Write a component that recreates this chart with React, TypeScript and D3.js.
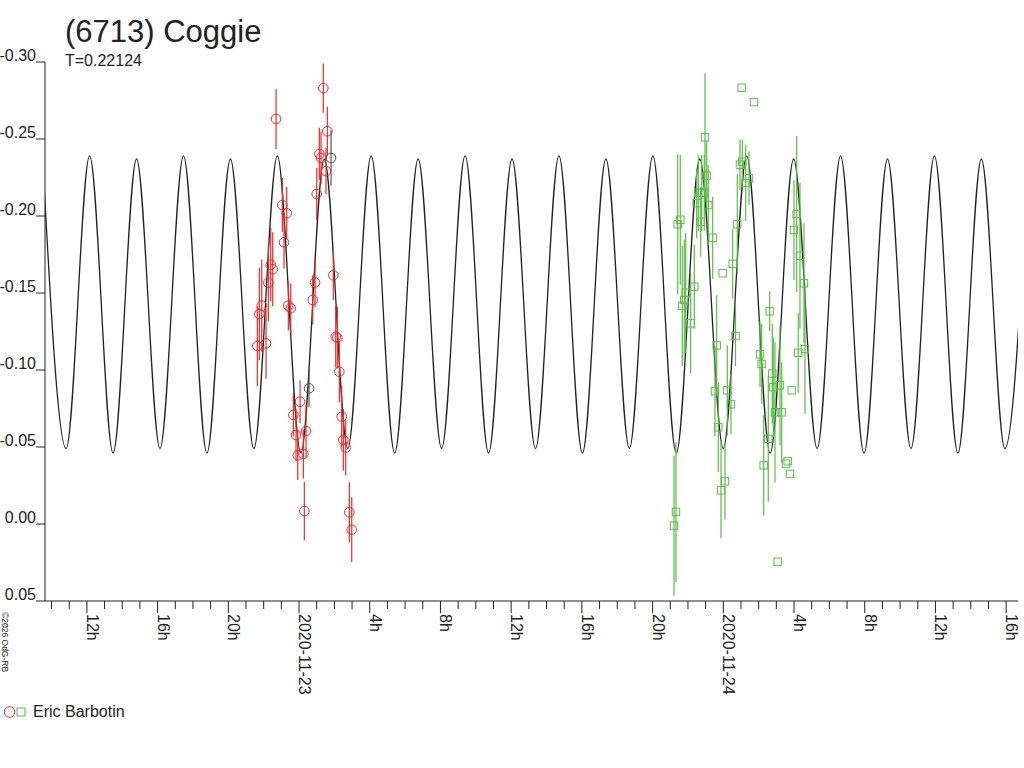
import React, { useEffect, useRef } from 'react';
import * as d3 from 'd3';

// times are hours from 2020-11-23 00:00 UT, magnitudes are relative
const BASE = Date.UTC(2020, 10, 23);
const X_START = -14.37;
const X_END = 40.67;

const yTicks = [-0.3, -0.25, -0.2, -0.15, -0.1, -0.05, 0.0, 0.05];

// Fourier fit, read as its extrema (P = 0.22124 d)
const curveHours = [
  -14.502, -13.175, -11.847, -10.52, -9.192, -7.865, -6.537, -5.21, -3.882, -2.555,
  -1.227, 0.101, 1.428, 2.756, 4.083, 5.411, 6.738, 8.066, 9.393, 10.721,
  12.048, 13.376, 14.703, 16.031, 17.358, 18.686, 20.013, 21.341, 22.668, 23.996,
  25.323, 26.651, 27.978, 29.306, 30.633, 31.961, 33.288, 34.616, 35.943, 37.271,
  38.598, 39.926, 41.253,
];
const curveMags = [
  -0.237, -0.049, -0.239, -0.046, -0.237, -0.049, -0.239, -0.046, -0.237, -0.049,
  -0.239, -0.046, -0.237, -0.049, -0.239, -0.046, -0.237, -0.049, -0.239, -0.046,
  -0.237, -0.049, -0.239, -0.046, -0.237, -0.049, -0.239, -0.046, -0.237, -0.049,
  -0.239, -0.046, -0.237, -0.049, -0.239, -0.046, -0.237, -0.049, -0.239, -0.046,
  -0.237, -0.049, -0.239,
];

// session 1 (red circles)
const redHours = [
  -1.301, 1.374, 1.601, 1.148, 1.244, 1.527, 1.001, -0.945, -0.696, -0.848,
  -1.601, -1.488, -1.736, -2.11, -2.245, 0.905, 0.775, 1.94, -0.605, -0.469,
  -2.359, -1.867, 2.076, 2.166, 2.279, 0.057, -0.322, -0.17, 0.396, -0.074,
  0.243, 2.415, 2.506, 2.641, 0.3, 2.845, 2.981,
];
const redMags = [
  -0.263, -0.283, -0.255, -0.2403, -0.2377, -0.2292, -0.2143, -0.2071, -0.2018, -0.1829,
  -0.1684, -0.1654, -0.1567, -0.1418, -0.1364, -0.1569, -0.1455, -0.1615, -0.1418, -0.1401,
  -0.1156, -0.1173, -0.1216, -0.121, -0.0989, -0.0794, -0.0708, -0.0578, -0.0604, -0.0446,
  -0.0455, -0.0697, -0.0546, -0.0496, -0.0084, -0.0076, 0.0037,
];
const redErrs = [
  0.0195, 0.016, 0.016, 0.017, 0.017, 0.015, 0.017, 0.0175, 0.017, 0.017,
  0.024, 0.024, 0.025, 0.03, 0.03, 0.016, 0.016, 0.016, 0.016, 0.016,
  0.026, 0.023, 0.02, 0.02, 0.02, 0.014, 0.014, 0.017, 0.017, 0.016,
  0.016, 0.02, 0.02, 0.018, 0.019, 0.0195, 0.021,
];

// a couple of points drawn in dark grey
const greyHours = [1.81, 0.566];
const greyMags = [-0.2377, -0.0881];
const greyErrs = [0.018, 0.012];

// session 2 (green squares)
const greenHours = [
  25.04, 25.735, 22.964, 24.943, 25.074, 25.266, 25.452, 23.06, 22.585, 22.777,
  22.924, 22.494, 23.151, 21.567, 21.42, 22.721, 23.399, 24.791, 23.965, 24.53,
  22.359, 21.872, 21.793, 21.68, 22.155, 24.689, 23.626, 23.529, 24.225, 24.434,
  23.716, 24.095, 23.869, 21.324, 21.21, 28.151, 27.998, 28.337, 28.563, 26.623,
  26.075, 26.171, 28.241, 28.62, 26.77, 26.827, 27.206, 27.866, 26.923, 27.302,
  26.544, 26.284, 27.642, 27.545, 27.771, 27.076,
];
const greenMags = [
  -0.2833, -0.274, -0.2511, -0.2333, -0.2353, -0.2214, -0.2245, -0.2262, -0.2151, -0.2151,
  -0.2151, -0.2083, -0.2071, -0.1976, -0.1946, -0.1963, -0.1859, -0.1946, -0.1628, -0.1689,
  -0.1541, -0.1502, -0.1455, -0.1416, -0.1303, -0.1221, -0.116, -0.0862, -0.0868, -0.0777,
  -0.0628, -0.0277, -0.0219, -0.0078, 0.0011, -0.2013, -0.1909, -0.1742, -0.1563, -0.1381,
  -0.1102, -0.1039, -0.1112, -0.1136, -0.0977, -0.0888, -0.0901, -0.0868, -0.0725, -0.0725,
  -0.0553, -0.0381, -0.0407, -0.0392, -0.0325, 0.0245,
];
const greenErrs = [
  0, 0, 0.0416, 0.0162, 0.0143, 0.0247, 0.0175, 0.0227, 0.0247, 0.0247,
  0.0247, 0.0227, 0.026, 0.0422, 0.0455, 0.0227, 0.0266, 0.0325, 0, 0.0227,
  0.0273, 0.039, 0.039, 0.039, 0.0325, 0.0195, 0.0325, 0.0292, 0.0292, 0.0195,
  0.0292, 0.0247, 0.0312, 0.0455, 0.0455, 0.0506, 0.0325, 0.0474, 0.039, 0.013,
  0.0214, 0.026, 0.026, 0.0422, 0.0325, 0.0325, 0.039, 0, 0.0455, 0.0325,
  0.0409, 0.0325, 0, 0, 0, 0,
];

const TITLE = '(6713) Coggie';
const SUBTITLE = 'T=0.22124';
const OBSERVER = 'Eric Barbotin';

const FONT = '"Liberation Sans", Arial, sans-serif';
const INK = '#222';
const RED = '#ec2a2a';
const GREEN = '#5dbb47';
const GREY = '#555';

const toDate = (h: number) => new Date(BASE + h * 3600 * 1000);

export default function App() {
  const svgRef = useRef<SVGSVGElement>(null);

  useEffect(() => {
    if (!svgRef.current) return;
    const svg = d3.select(svgRef.current);
    svg.selectAll('*').remove();

    const x = d3.scaleUtc().domain([toDate(X_START), toDate(X_END)]).range([45, 1018]);
    const y = d3.scaleLinear().domain([-0.3, 0.05]).range([62, 601]);

    svg.append('rect').attr('width', 1024).attr('height', 768).attr('fill', '#fff');

    // Title
    svg.append('text')
      .attr('x', 65).attr('y', 42)
      .style('font-family', FONT).style('font-size', '31px').attr('fill', INK)
      .text(TITLE);
    svg.append('text')
      .attr('x', 65).attr('y', 66)
      .style('font-family', FONT).style('font-size', '16px').attr('fill', INK)
      .text(SUBTITLE);

    // Y axis
    const [x0, x1] = x.range();
    const [yTop, yBot] = y.range();
    svg.append('line')
      .attr('x1', x0).attr('x2', x0).attr('y1', yTop).attr('y2', yBot)
      .attr('stroke', INK).attr('stroke-width', 1);
    yTicks.forEach(v => {
      svg.append('line')
        .attr('x1', x0 - 9).attr('x2', x0).attr('y1', y(v)).attr('y2', y(v))
        .attr('stroke', INK);
      svg.append('text')
        .attr('x', x0 - 9).attr('y', y(v) - 1)
        .attr('text-anchor', 'end')
        .style('font-family', FONT).style('font-size', '16px').attr('fill', INK)
        .text(v.toFixed(2));
    });

    // X axis
    svg.append('line')
      .attr('x1', x0).attr('x2', x1).attr('y1', yBot).attr('y2', yBot)
      .attr('stroke', INK);
    x.ticks(d3.utcHour.every(1)!).forEach(d => {
      const hr = d.getUTCHours();
      const major = hr % 4 === 0;
      svg.append('line')
        .attr('x1', x(d)).attr('x2', x(d))
        .attr('y1', yBot).attr('y2', yBot + (major ? 12 : 8))
        .attr('stroke', INK);
      if (major) {
        const label = hr === 0 ? d3.utcFormat('%Y-%m-%d')(d) : `${hr}h`;
        svg.append('text')
          .attr('transform', `translate(${x(d)},${yBot + 13}) rotate(90)`)
          .style('font-family', FONT).style('font-size', '16px').attr('fill', INK)
          .text(label);
      }
    });

    // Copyright
    svg.append('text')
      .attr('transform', 'translate(2,612) rotate(90)')
      .style('font-family', FONT).style('font-size', '8.5px').attr('fill', INK)
      .text('\u00a92026 OdG-RB');

    // Fitted curve
    svg.append('clipPath').attr('id', 'plot-clip')
      .append('rect').attr('x', x0).attr('y', 0).attr('width', x1 - x0).attr('height', 768);

    const line = d3.line<number>()
      .x((_, i) => x(toDate(curveHours[i])))
      .y(d => y(d))
      .curve(d3.curveMonotoneX);

    svg.append('path')
      .datum(curveMags)
      .attr('clip-path', 'url(#plot-clip)')
      .attr('fill', 'none')
      .attr('stroke', INK)
      .attr('stroke-width', 1.3)
      .attr('d', line);

    // Observations
    const drawSeries = (hours: number[], mags: number[], errs: number[], color: string, shape: 'circle' | 'square') => {
      const g = svg.append('g');
      hours.forEach((h, i) => {
        const cx = x(toDate(h));
        const cy = y(mags[i]);
        if (errs[i] > 0) {
          g.append('line')
            .attr('x1', cx).attr('x2', cx)
            .attr('y1', y(mags[i] - errs[i])).attr('y2', y(mags[i] + errs[i]))
            .attr('stroke', color).attr('stroke-width', 1.2);
        }
        if (shape === 'circle') {
          g.append('circle')
            .attr('cx', cx).attr('cy', cy).attr('r', 4.8)
            .attr('fill', 'none').attr('stroke', color).attr('stroke-width', 1);
        } else {
          g.append('rect')
            .attr('x', cx - 3.7).attr('y', cy - 3.7).attr('width', 7.4).attr('height', 7.4)
            .attr('fill', 'none').attr('stroke', color).attr('stroke-width', 1);
        }
      });
    };

    drawSeries(redHours, redMags, redErrs, RED, 'circle');
    drawSeries(greyHours, greyMags, greyErrs, GREY, 'circle');
    drawSeries(greenHours, greenMags, greenErrs, GREEN, 'square');

    // Legend
    svg.append('circle')
      .attr('cx', 9.5).attr('cy', 712).attr('r', 5.3)
      .attr('fill', 'none').attr('stroke', RED);
    svg.append('rect')
      .attr('x', 17).attr('y', 708).attr('width', 8).attr('height', 8)
      .attr('fill', 'none').attr('stroke', GREEN);
    svg.append('text')
      .attr('x', 33).attr('y', 717)
      .style('font-family', FONT).style('font-size', '16px').attr('fill', INK)
      .text(OBSERVER);
  }, []);

  return (
    <svg
      ref={svgRef}
      width={1024}
      height={768}
      style={{ position: 'absolute', left: 0, top: 0, display: 'block' }}
    />
  );
}
